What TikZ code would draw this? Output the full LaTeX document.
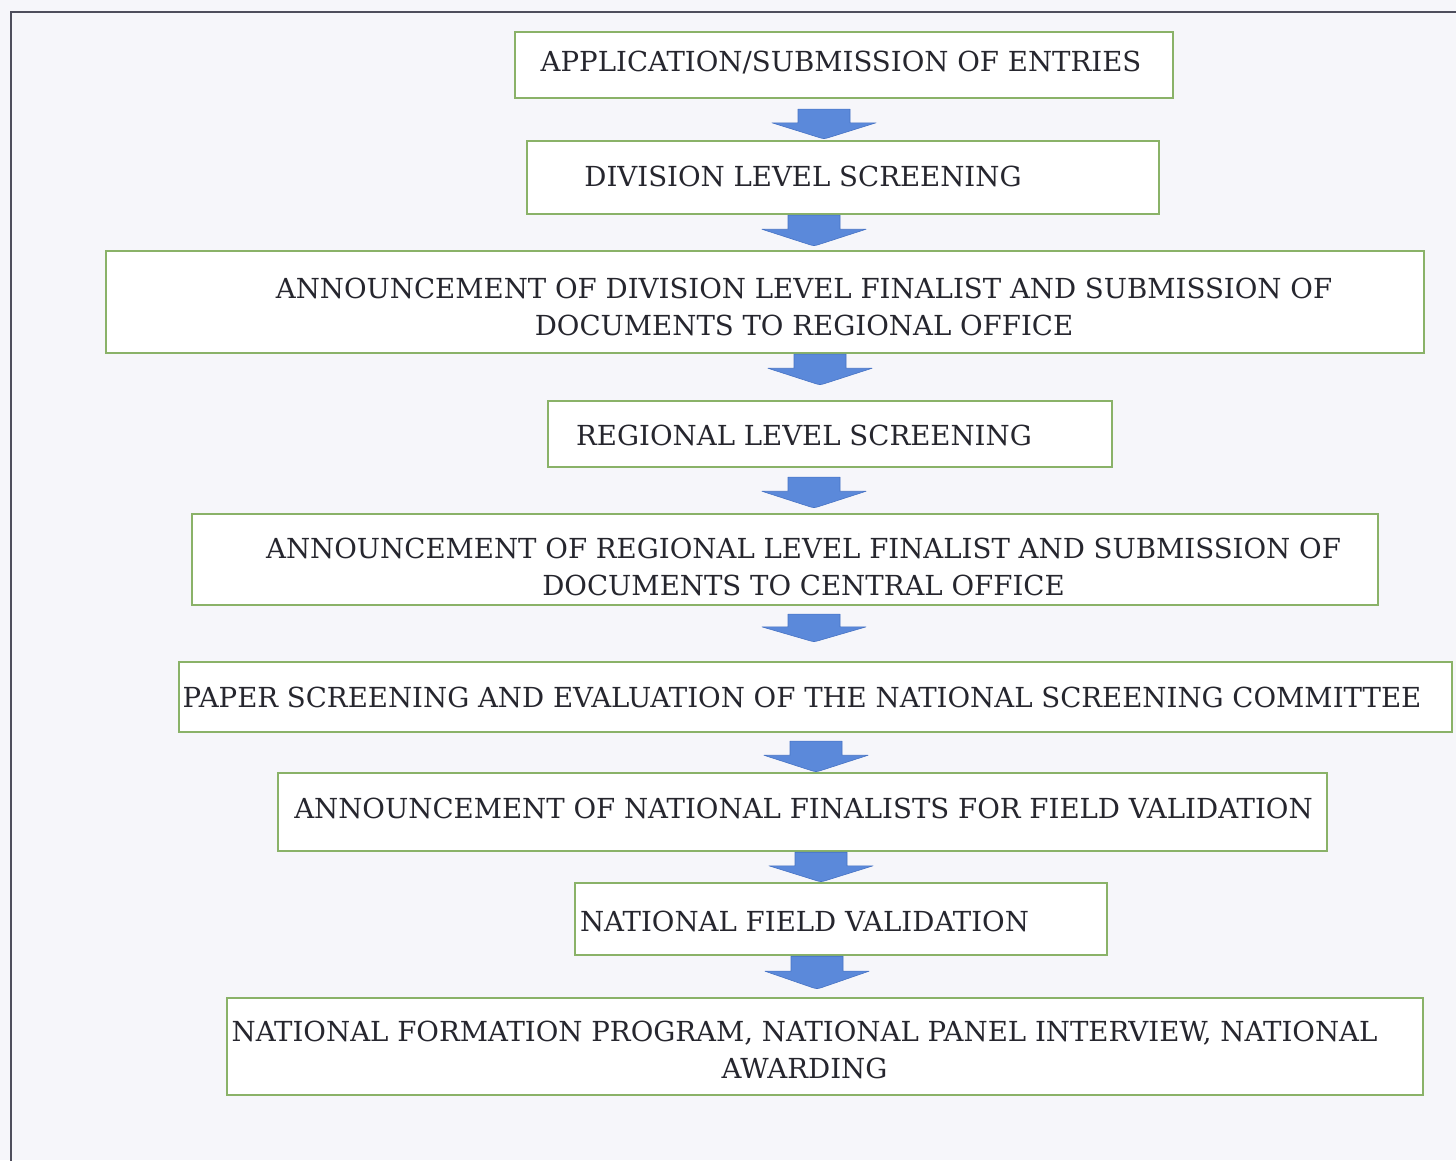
\documentclass[tikz,border=0pt]{standalone}
\usepackage{fontspec}
\setmainfont{DejaVu Serif}
\usetikzlibrary{calc}
\definecolor{bg}{HTML}{F6F6FA}
\definecolor{boxgreen}{HTML}{8AB268}
\definecolor{arrblue}{HTML}{5B89DA}
\definecolor{arredge}{HTML}{4773C4}
\definecolor{txt}{HTML}{26262E}
\definecolor{framec}{HTML}{4E4E5C}
\tikzset{
  stepbox/.style={draw=boxgreen, line width=2.4pt, fill=white, inner sep=0pt},
  steptext/.style={text=txt, font=\fontsize{27.6}{37}\selectfont, align=center, inner sep=0pt},
  arr/.style={fill=arrblue, draw=arredge, line width=0.6pt, line join=round},
  framel/.style={draw=framec, line width=2.6pt}
}
\newcommand{\blockarr}[5]{%
  \path[arr] let \p1=(#1.south), \p2=(#2.north),
    \n1={\y1-#4}, \n2={\y2+#5}, \n3={\n1-(\n1-\n2)*0.46} in
    ({#3-26},\n1) -- ({#3+26},\n1) -- ({#3+26},\n3) -- ({#3+52},\n3)
    -- ({#3+4},{\n2+1}) .. controls ({#3},\n2) .. ({#3-4},{\n2+1})
    -- ({#3-52},\n3) -- ({#3-26},\n3) -- cycle;}
\begin{document}
\begin{tikzpicture}[x=1pt,y=1pt]
\useasboundingbox (0,0) rectangle (1456,1160);
\fill[bg] (0,0) rectangle (1456,1160);
\draw[framel] (11,-10) -- (11,1148) -- (1470,1148);

\node[stepbox, minimum width=658, minimum height=66] (b1) at (844,1095) {};
\node[stepbox, minimum width=632, minimum height=73] (b2) at (843,982.5) {};
\node[stepbox, minimum width=1318, minimum height=102] (b3) at (765,858) {};
\node[stepbox, minimum width=564, minimum height=66] (b4) at (830,726) {};
\node[stepbox, minimum width=1186, minimum height=91] (b5) at (785,600.5) {};
\node[stepbox, minimum width=1273, minimum height=70] (b6) at (815.5,463) {};
\node[stepbox, minimum width=1049, minimum height=78] (b7) at (802.5,348) {};
\node[stepbox, minimum width=532, minimum height=72] (b8) at (841,241) {};
\node[stepbox, minimum width=1196, minimum height=97] (b9) at (825,113.5) {};

\node[steptext] (t1) at (841,1097) {APPLICATION/SUBMISSION OF ENTRIES};
\node[steptext] (t2) at (803,984) {DIVISION LEVEL SCREENING};
\node[steptext] (t3) at (804,853.5) {ANNOUNCEMENT OF DIVISION LEVEL FINALIST AND SUBMISSION OF\\DOCUMENTS TO REGIONAL OFFICE};
\node[steptext] (t4) at (804,725) {REGIONAL LEVEL SCREENING};
\node[steptext] (t5) at (803.5,593.5) {ANNOUNCEMENT OF REGIONAL LEVEL FINALIST AND SUBMISSION OF\\DOCUMENTS TO CENTRAL OFFICE};
\node[steptext] (t6) at (802,463) {PAPER SCREENING AND EVALUATION OF THE NATIONAL SCREENING COMMITTEE};
\node[steptext] (t7) at (803.5,352) {ANNOUNCEMENT OF NATIONAL FINALISTS FOR FIELD VALIDATION};
\node[steptext] (t8) at (804.5,239) {NATIONAL FIELD VALIDATION};
\node[steptext] (t9) at (804.5,110.5) {NATIONAL FORMATION PROGRAM, NATIONAL PANEL INTERVIEW, NATIONAL\\AWARDING};

\blockarr{b1}{b2}{824}{10}{1}
\blockarr{b2}{b3}{814}{0}{4}
\blockarr{b3}{b4}{820}{0}{15}
\blockarr{b4}{b5}{814}{9}{5}
\blockarr{b5}{b6}{814}{8}{19}
\blockarr{b6}{b7}{816}{8}{0}
\blockarr{b7}{b8}{821}{0}{0}
\blockarr{b8}{b9}{817}{0}{8}
\end{tikzpicture}
\end{document}
